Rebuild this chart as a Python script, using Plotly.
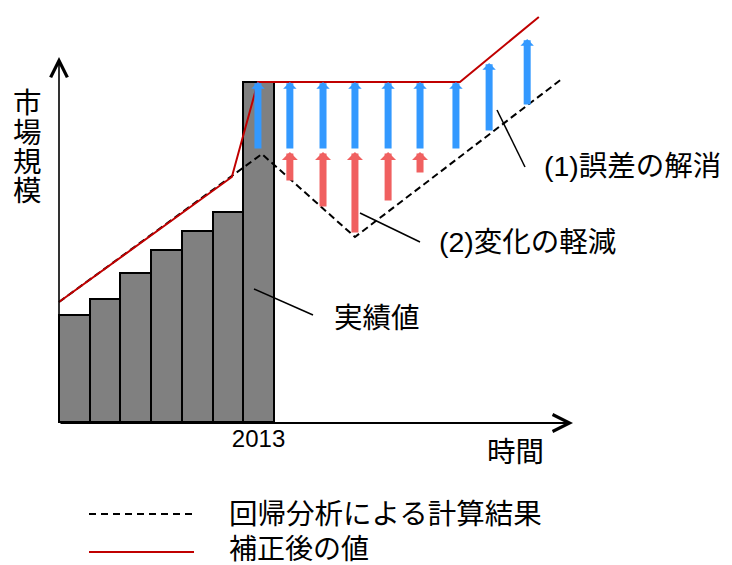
import plotly.graph_objects as go

# ---------------- data ----------------
years = [2007, 2008, 2009, 2010, 2011, 2012, 2013]
actual = [10.7, 12.3, 14.9, 17.2, 19.1, 21.0, 34.0]

regression_x = [2006.5, 2013.11, 2016.14, 2022.92]
regression_y = [12.0, 26.8, 18.5, 34.4]

corrected_x = [2006.5, 2012.13, 2012.98, 2019.56, 2022.13]
corrected_y = [12.0, 24.5, 34.0, 34.0, 40.5]

# (1) 誤差の解消 : blue arrows
err_x = [2012.98, 2014.02, 2015.10, 2016.14, 2017.22, 2018.26, 2019.43, 2020.51, 2021.75]
err_from = [27.2, 27.2, 27.2, 27.2, 27.2, 27.2, 27.2, 29.0, 31.6]
err_to = [34.0, 34.0, 34.0, 34.0, 34.0, 34.0, 34.0, 35.9, 38.3]

# (2) 変化の軽減 : red arrows
chg_x = [2014.02, 2015.10, 2016.14, 2017.22, 2018.26]
chg_from = [24.0, 21.4, 18.8, 22.0, 24.8]
chg_to = [27.0, 27.0, 27.0, 27.0, 27.0]

tick_vals = [2013]
tick_text = ["2013"]

legend_names = ["回帰分析による計算結果", "補正後の値"]
label_actual = "実績値"
label_err = "(1)誤差の解消"
label_chg = "(2)変化の軽減"
y_title = "市場規模"
x_title = "時間"

# ---------------- styling ----------------
OFF = 8                      # page margin of the browser
W, H = 732 - OFF, 565 - OFF  # figure size
FONT = "Liberation Sans, Arial, Noto Sans CJK JP, sans-serif"
BLUE = "#3399FF"
PINK = "#F06060"
RED = "#C00000"
GRAY = "#808080"

X_RANGE = [2007 + (OFF - 74.35) / 30.7, 2007 + (732 - 74.35) / 30.7]
Y_RANGE = [(422 - 565) / 10, (422 - OFF) / 10]


def px(x):
    return (x - OFF) / W


def py(y):
    return 1 - (y - OFF) / H


fig = go.Figure()

fig.add_trace(go.Bar(
    x=years, y=actual, width=1.0,
    marker=dict(color=GRAY, line=dict(color="black", width=2)),
    showlegend=False, hoverinfo="skip",
))

fig.add_trace(go.Scatter(
    x=regression_x, y=regression_y, mode="lines",
    line=dict(color="black", width=2, dash="7px,4px"),
    name=legend_names[0], showlegend=False, hoverinfo="skip",
))

fig.add_trace(go.Scatter(
    x=corrected_x, y=corrected_y, mode="lines",
    line=dict(color=RED, width=2),
    name=legend_names[1], showlegend=False, hoverinfo="skip",
))

annotations = []

# arrows (data driven)
for x, y0, y1 in zip(chg_x, chg_from, chg_to):
    annotations.append(dict(
        x=x, y=y1, ax=x, ay=y0, xref="x", yref="y", axref="x", ayref="y",
        text="", showarrow=True, arrowhead=1, arrowwidth=7, arrowsize=0.38,
        arrowcolor=PINK, standoff=0, startstandoff=0,
    ))
for x, y0, y1 in zip(err_x, err_from, err_to):
    annotations.append(dict(
        x=x, y=y1, ax=x, ay=y0, xref="x", yref="y", axref="x", ayref="y",
        text="", showarrow=True, arrowhead=1, arrowwidth=7, arrowsize=0.32,
        arrowcolor=BLUE, standoff=0, startstandoff=0,
    ))

# axis arrows
x0_axis = 2007 + (59 - 74.35) / 30.7
x1_axis = 2007 + (573 - 74.35) / 30.7
annotations.append(dict(
    x=x1_axis, y=-0.1, ax=x0_axis, ay=-0.1, xref="x", yref="y", axref="x", ayref="y",
    text="", showarrow=True, arrowhead=5, arrowwidth=2, arrowsize=1.65,
    arrowcolor="black", standoff=0,
))
annotations.append(dict(
    x=x0_axis, y=36.5, ax=x0_axis, ay=-0.1, xref="x", yref="y", axref="x", ayref="y",
    text="", showarrow=True, arrowhead=5, arrowwidth=1.6, arrowsize=2.05,
    arrowcolor="black", standoff=0,
))

# texts
def text(t, x, y, size=28.5, xanchor="left"):
    annotations.append(dict(
        x=px(x), y=py(y), xref="paper", yref="paper", text=t, showarrow=False,
        xanchor=xanchor, yanchor="middle", font=dict(family=FONT, size=size, color="black"),
    ))

text(label_err, 542, 166)
text(label_chg, 437, 242)
text(label_actual, 332, 318)
text(x_title, 485, 452)
text(legend_names[0], 227, 514)
text(legend_names[1], 227, 549, size=28)
for ch, yy in zip(y_title, [103, 133, 162, 191]):
    text(ch, 27, yy, xanchor="center")

shapes = []
def seg(x0, y0, x1, y1, color="black", width=1.5, dash="solid"):
    shapes.append(dict(
        type="line", xref="paper", yref="paper",
        x0=px(x0), y0=py(y0), x1=px(x1), y1=py(y1),
        line=dict(color=color, width=width, dash=dash),
    ))

# leader lines
seg(497, 110, 525, 167)
seg(360, 213, 420, 242)
seg(254, 289, 313, 315)
# legend samples
seg(89, 514, 194, 514, width=1.8, dash="7px,5px")
seg(89, 552, 194, 552, color=RED, width=2)

fig.update_layout(
    width=W, height=H,
    margin=dict(l=0, r=0, t=0, b=0),
    paper_bgcolor="white", plot_bgcolor="white",
    showlegend=False,
    annotations=annotations,
    shapes=shapes,
    font=dict(family=FONT),
    xaxis=dict(
        range=X_RANGE, anchor="free", position=(565 - 422) / H,
        showline=False, showgrid=False, zeroline=False, ticks="",
        tickvals=tick_vals, ticktext=tick_text,
        tickfont=dict(family=FONT, size=24, color="black"),
        fixedrange=True,
    ),
    yaxis=dict(
        range=Y_RANGE, showline=False, showgrid=False, zeroline=False,
        showticklabels=False, ticks="", fixedrange=True,
    ),
    bargap=0,
)

fig.write_html("out.html")
